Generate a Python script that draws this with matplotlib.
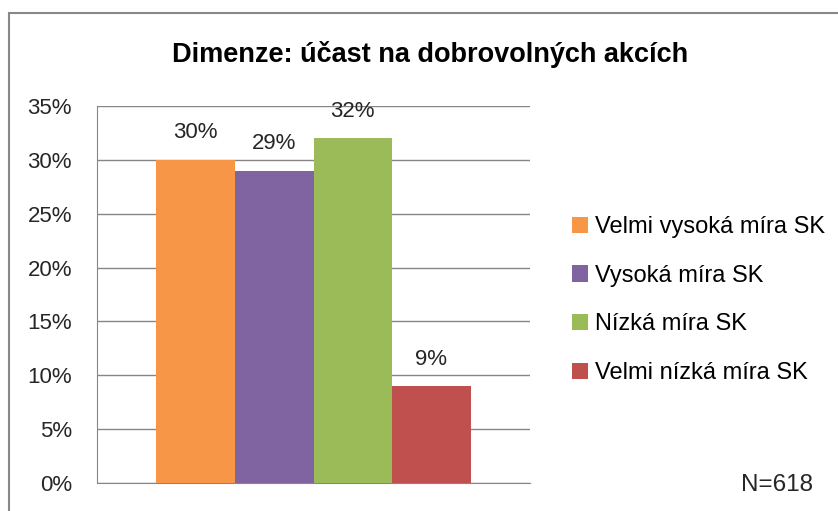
import matplotlib

matplotlib.use('Agg')
import matplotlib.pyplot as plt
from matplotlib.patches import Rectangle, Patch

categories = ['Velmi vysoká míra SK', 'Vysoká míra SK', 'Nízká míra SK', 'Velmi nízká míra SK']
values = [30, 29, 32, 9]
colors = ['#F79646', '#8064A2', '#9BBB59', '#C0504D']
yticks = [0, 5, 10, 15, 20, 25, 30, 35]

plt.rcParams['font.family'] = ['Liberation Sans', 'DejaVu Sans']

W, H = 838, 511
fig = plt.figure(figsize=(W / 100, H / 100), dpi=100)
ax = fig.add_axes([97 / W, 28 / H, 433 / W, 377 / H])

width = 0.1813
offsets = [(i - 1.5) * width for i in range(len(values))]
for off, v, c in zip(offsets, values, colors):
    ax.bar(off, v, width=width, color=c, zorder=3)
    ax.text(off, v + 2.5, f'{v}%', ha='center', va='center', fontsize=16, color='#262626')

ax.set_xlim(-0.5, 0.5)
ax.set_ylim(0, 35)
ax.set_yticks(yticks)
ax.set_yticklabels([f'{t}%' for t in yticks], fontsize=16, color='#262626')
ax.set_xticks([])
ax.grid(axis='y', color='#868686', linewidth=1, zorder=0)
for s in ['top', 'right']:
    ax.spines[s].set_visible(False)
for s in ['bottom', 'left']:
    ax.spines[s].set_color('#868686')
ax.tick_params(axis='y', length=0, pad=18)

handles = [Patch(facecolor=c, label=l) for c, l in zip(colors, categories)]
fig.legend(handles=handles, loc='upper left', bbox_to_anchor=(572 / W, 1 - 216 / H),
           frameon=False, fontsize=17, handlelength=0.68, handleheight=0.68,
           handletextpad=0.3, labelspacing=1.13, borderpad=0, borderaxespad=0)

fig.text(430 / W, 1 - 54 / H, 'Dimenze: účast na dobrovolných akcích',
         ha='center', va='center', fontsize=19.5, fontweight='bold')
fig.text(813 / W, 1 - 485 / H, 'N=618', ha='right', va='center', fontsize=17.5, color='#262626')

fig.patches.append(Rectangle((9 / W, -0.05), 1.0, 1 - 13 / H + 0.05, transform=fig.transFigure,
                             fill=False, edgecolor='#888888', linewidth=1.5))

fig.savefig('out.png', dpi=100)
